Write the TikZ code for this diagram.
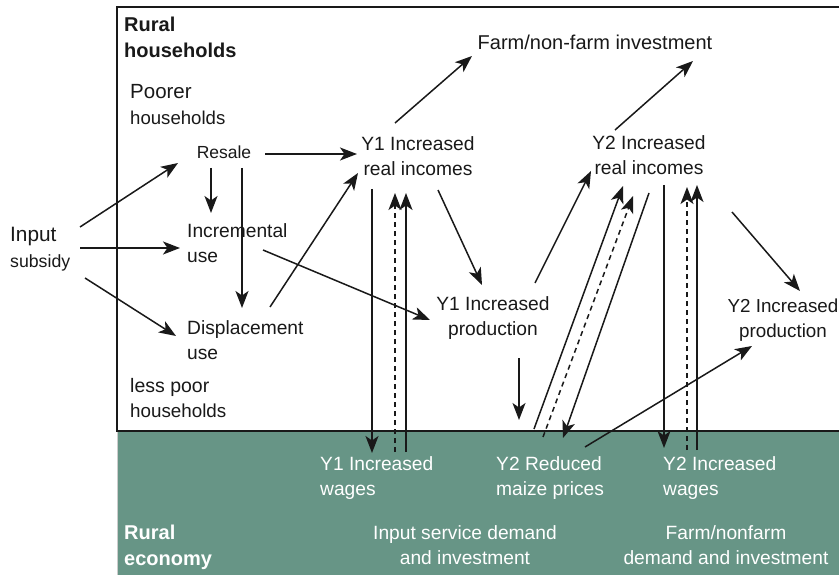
\documentclass[tikz,border=0pt]{standalone}
\usepackage{fontspec}
\setmainfont{Liberation Sans}
\usetikzlibrary{arrows.meta,calc}
\definecolor{econgreen}{RGB}{103,149,134}
\definecolor{ink}{RGB}{25,25,25}
\begin{document}
\begin{tikzpicture}[x=1pt,y=-1pt,
  lbl/.style={font=\fontsize{19.2}{25.5}\selectfont, text=ink, inner sep=0pt, align=center},
  lbll/.style={lbl, align=left, anchor=west},
  wlbl/.style={lbl, text=white},
  wlbll/.style={lbll, text=white},
  arr/.style={-{Stealth[length=17pt,width=13pt,inset=4.5pt]}, line width=1.5pt, draw=ink},
  dsh/.style={arr, dash pattern=on 5pt off 4pt},
  plain/.style={line width=1.5pt, draw=ink}]
\useasboundingbox (0,0) rectangle (839,575);
\fill[white] (0,0) rectangle (839,575);
\fill[econgreen] (117,431) rectangle (839,575);
\draw[gray!40, line width=1pt] (117,431) -- (117,575);
\draw[ink, line width=1.1pt] (839,7) -- (117,7) -- (117,431) -- (839,431);

% labels
\node[lbll, font=\fontsize{20}{26}\selectfont\bfseries] (rh) at (124,37.5) {Rural\\households};
\node[lbll] (poor) at (130,104.5) {{\fontsize{20.5}{25.5}\selectfont Poorer}\\{\fontsize{18.6}{25.5}\selectfont households}};
\node[lbll] (less) at (130,398) {{\fontsize{19.5}{25.5}\selectfont less poor}\\{\fontsize{18.8}{25.5}\selectfont households}};
\node[lbl, font=\fontsize{17.5}{25}\selectfont] (resale) at (224,152) {Resale};
\node[lbll] (incr) at (187,243) {Incremental\\use};
\node[lbll] (displ) at (187,340) {Displacement\\use};
\node[lbll] (inp) at (10,249) {{\fontsize{20.8}{26}\selectfont Input}\\{\fontsize{17.7}{26}\selectfont subsidy}};
\node[lbl] (y1inc) at (418,156) {Y1 Increased\\real incomes};
\node[lbl, font=\fontsize{20}{25}\selectfont] (farm) at (595,42) {Farm/non-farm investment};
\node[lbl] (y2inc) at (649,155) {Y2 Increased\\real incomes};
\node[lbl] (y1prod) at (493,318) {Y1 Increased\\production};
\node[lbl, font=\fontsize{18.8}{25.5}\selectfont] (y2prod) at (783,320) {Y2 Increased\\production};
\node[wlbll] (y1wag) at (320,478) {Y1 Increased\\wages};
\node[wlbll] (y2red) at (496,478) {Y2 Reduced\\maize prices};
\node[wlbll] (y2wag) at (663,478) {Y2 Increased\\wages};
\node[wlbll, font=\fontsize{20}{26}\selectfont\bfseries] (re) at (124,547) {Rural\\economy};
\node[wlbl] (isd) at (465,545) {Input service demand\\and investment};
\node[wlbl] (fnd) at (726,545) {Farm/nonfarm\\demand and investment};

% connectors
\draw[arr] ($(inp.west)+(70,-22)$) -- ($(resale)+(-46,11)$);
\draw[arr] ($(inp.west)+(70,-1)$) -- ($(incr.west)+(-7,5)$);
\draw[arr] ($(inp.west)+(75,29)$) -- ($(displ.west)+(-11,-4)$);
\draw[arr] ($(resale)+(41,2)$) -- ($(y1inc)+(-61,-2)$);
\draw[arr] ($(resale)+(-13,16)$) -- ($(incr.west)+(24,-30)$);
\draw[arr] ($(resale)+(18,16)$) -- ($(displ.west)+(55,-32)$);
\draw[arr] ($(displ.west)+(83,-33)$) -- ($(y1inc)+(-60,17)$);
\draw[arr] ($(incr.west)+(76,7)$) -- ($(y1prod)+(-63,2)$);
\draw[arr] ($(y1inc)+(-23,-33)$) -- ($(farm)+(-123,14)$);
\draw[arr] ($(y1inc)+(20,34)$) -- ($(y1prod)+(-11,-33)$);
\draw[arr] ($(y1inc)+(-46,33)$) -- ($(y1wag.west)+(52,-25)$);
\draw[dsh] ($(y1wag.west)+(75,-26)$) -- ($(y1inc)+(-23,37)$);
\draw[arr] ($(y1wag.west)+(86,-26)$) -- ($(y1inc)+(-12,37)$);
\draw[arr] ($(y1prod)+(26,40)$) -- ($(y2red.west)+(23,-58)$);
\draw[arr] ($(y1prod)+(42,-35)$) -- ($(y2inc)+(-58,16)$);
\draw[arr] ($(y2inc)+(-34,-25)$) -- ($(farm)+(98,19)$);
\draw[arr] ($(y2red.west)+(38,-49)$) -- ($(y2inc)+(-26,31)$);
\draw[dsh] ($(y2red.west)+(47,-41)$) -- ($(y2inc)+(-16,41)$);
\draw[arr] ($(y2inc)+(0,38)$) -- ($(y2red.west)+(67,-40)$);
\draw[arr] ($(y2inc)+(15,30)$) -- ($(y2wag.west)+(1,-30)$);
\draw[dsh] ($(y2wag.west)+(24,-28)$) -- ($(y2inc)+(38,32)$);
\draw[arr] ($(y2wag.west)+(34,-28)$) -- ($(y2inc)+(48,30)$);
\draw[arr] ($(y2inc)+(83,57)$) -- ($(y2prod)+(17,-29)$);
\draw[arr] ($(y2red.west)+(89,-31)$) -- ($(y2prod)+(-31,26)$);
\end{tikzpicture}
\end{document}
